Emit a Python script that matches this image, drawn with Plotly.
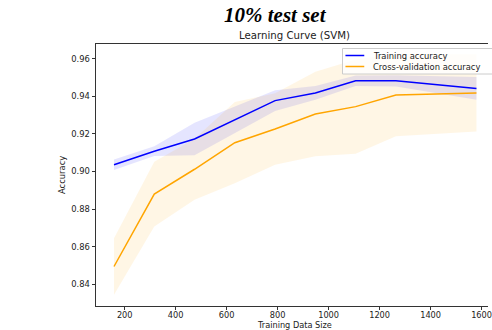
import plotly.graph_objects as go

# ---- data ----
train_sizes = [158, 316, 474, 632, 790, 948, 1106, 1264, 1422, 1580]
train_mean = [0.9036, 0.9108, 0.9173, 0.9276, 0.9377, 0.9418, 0.9483, 0.9482, 0.9463, 0.9442]
train_std = [0.0028, 0.0026, 0.0086, 0.0070, 0.0055, 0.0037, 0.0028, 0.0030, 0.0045, 0.0060]
cv_mean = [0.8495, 0.8880, 0.9012, 0.9153, 0.9226, 0.9306, 0.9345, 0.9407, 0.9412, 0.9418]
cv_std = [0.0150, 0.0172, 0.0162, 0.0216, 0.0190, 0.0225, 0.0250, 0.0220, 0.0212, 0.0205]

x_ticks = [200, 400, 600, 800, 1000, 1200, 1400, 1600]
y_ticks = [0.84, 0.86, 0.88, 0.90, 0.92, 0.94, 0.96]

suptitle = "10% test set"
title = "Learning Curve (SVM)"
x_label = "Training Data Size"
y_label = "Accuracy"
series_names = ["Training accuracy", "Cross-validation accuracy"]

# ---- layout geometry ----
W, H = 492, 330
L, R, T, B = 96, 0, 44, 24
FONT = "DejaVu Sans"
FS = 8.4
BLUE = "#0000ff"
ORANGE = "#ffa500"

fig = go.Figure()


def band(x, m, s, fillcolor):
    up = [a + b for a, b in zip(m, s)]
    lo = [a - b for a, b in zip(m, s)]
    return go.Scatter(
        x=list(x) + list(x)[::-1],
        y=up + lo[::-1],
        fill="toself",
        fillcolor=fillcolor,
        line=dict(width=0),
        mode="lines",
        hoverinfo="skip",
        showlegend=False,
    )


fig.add_trace(band(train_sizes, train_mean, train_std, "rgba(0,0,255,0.1)"))
fig.add_trace(band(train_sizes, cv_mean, cv_std, "rgba(255,165,0,0.1)"))
fig.add_trace(go.Scatter(x=train_sizes, y=train_mean, mode="lines",
                         line=dict(color=BLUE, width=1.5),
                         name=series_names[0], showlegend=False))
fig.add_trace(go.Scatter(x=train_sizes, y=cv_mean, mode="lines",
                         line=dict(color=ORANGE, width=1.5),
                         name=series_names[1], showlegend=False))

plot_w = W - L - R
plot_h = H - T - B


def px_x(p):
    return (p - L) / plot_w


def px_y(p):
    return (H - B - p) / plot_h


# custom compact legend (matplotlib-like)
shapes = [
    dict(type="rect", xref="paper", yref="paper",
         x0=px_x(345), x1=px_x(497), y0=px_y(74), y1=px_y(48.5),
         fillcolor="rgba(255,255,255,0.8)", line=dict(color="#cccccc", width=1),
         layer="above"),
]
annotations = []
for i, (nm, col) in enumerate(zip(series_names, [BLUE, ORANGE])):
    yy = 55.5 + 11 * i
    shapes.append(dict(type="line", xref="paper", yref="paper",
                       x0=px_x(348), x1=px_x(367), y0=px_y(yy), y1=px_y(yy),
                       line=dict(color=col, width=1.5), layer="above"))
    annotations.append(dict(text=nm, xref="paper", yref="paper",
                            x=px_x(374), y=px_y(yy), xanchor="left", yanchor="middle",
                            showarrow=False, font=dict(family=FONT, size=FS, color="#222")))

annotations += [
    dict(text=suptitle, xref="paper", yref="paper", x=px_x(277.5), y=px_y(15),
         xanchor="center", yanchor="middle", showarrow=False,
         font=dict(family="Liberation Serif", size=21, color="black",
                   weight="bold", style="italic")),
    dict(text=title, xref="paper", yref="paper", x=px_x(297), y=px_y(36),
         xanchor="center", yanchor="middle", showarrow=False,
         font=dict(family=FONT, size=10.2, color="#222")),
    dict(text=x_label, xref="paper", yref="paper", x=px_x(297), y=px_y(325.2),
         xanchor="center", yanchor="middle", showarrow=False, borderpad=0,
         font=dict(family=FONT, size=8.2, color="#222")),
    dict(text=y_label, xref="paper", yref="paper", x=px_x(61.7), y=0.5,
         xanchor="center", yanchor="middle", showarrow=False, textangle=-90,
         font=dict(family=FONT, size=FS, color="#222")),
]

fig.update_layout(
    width=W, height=H,
    margin=dict(l=L, r=R, t=T, b=B, pad=0),
    paper_bgcolor="white", plot_bgcolor="white",
    showlegend=False,
    shapes=shapes,
    annotations=annotations,
    font=dict(family=FONT, size=FS, color="#222"),
)
fig.update_xaxes(
    range=[87.4, 200 + (W - R - 125) / 0.2575],
    tickvals=x_ticks, ticks="outside", ticklen=3, tickwidth=0.8, tickcolor="#333",
    ticklabeloverflow="allow", ticklabelstandoff=-2,
    showline=True, linecolor="#333", linewidth=1, mirror=True,
    showgrid=False, zeroline=False,
    tickfont=dict(family=FONT, size=8.2, color="#222"),
)
fig.update_yaxes(
    range=[0.8285, 0.9678],
    tickvals=y_ticks, tickformat=".2f", ticks="outside", ticklen=3.5, tickwidth=0.8,
    tickcolor="#333",
    showline=True, linecolor="#333", linewidth=1, mirror=False,
    showgrid=False, zeroline=False,
    tickfont=dict(family=FONT, size=FS, color="#222"),
)

fig.write_html("out.html")
